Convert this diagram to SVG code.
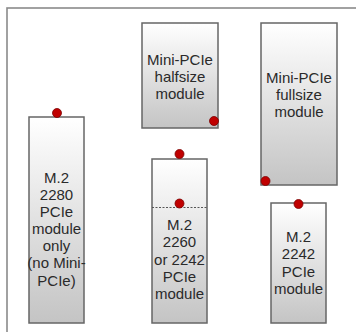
<svg xmlns="http://www.w3.org/2000/svg" width="356" height="332" viewBox="0 0 356 332">
<defs>
<linearGradient id="g" x1="0" y1="0" x2="0" y2="1">
<stop offset="0" stop-color="#ffffff"/>
<stop offset="1" stop-color="#c4c4c4"/>
</linearGradient>
</defs>
<style>
.box{fill:url(#g);stroke:#666;stroke-width:1.5}
.dot{fill:#c00000;stroke:#7a0000;stroke-width:0.8}
.t{font-family:"Liberation Sans",Arial,sans-serif;font-size:15px;fill:#2a2a2a;text-anchor:middle}
.frame{fill:#fff;stroke:#8a8a8a;stroke-width:1.6}
</style>
<rect width="356" height="332" fill="#fff"/>
<rect class="frame" x="7" y="8" width="400" height="400"/>
<g id="halfsize">
<rect class="box" x="142" y="23" width="76" height="105"/>
<text class="t" x="180" y="65">Mini-PCIe</text>
<text class="t" x="180" y="82">halfsize</text>
<text class="t" x="180" y="99">module</text>
<circle class="dot" cx="214" cy="121" r="4.5"/>
</g>
<g id="fullsize">
<rect class="box" x="261" y="23" width="76" height="162"/>
<text class="t" x="299" y="83">Mini-PCIe</text>
<text class="t" x="299" y="100">fullsize</text>
<text class="t" x="299" y="117">module</text>
<circle class="dot" cx="265.5" cy="181" r="4.5"/>
</g>
<g id="m2-2280">
<rect class="box" x="29" y="117" width="55" height="206"/>
<text class="t" x="56.5" y="183">M.2</text>
<text class="t" x="56.5" y="200">2280</text>
<text class="t" x="56.5" y="217">PCIe</text>
<text class="t" x="56.5" y="234">module</text>
<text class="t" x="56.5" y="251">only</text>
<text class="t" x="56.5" y="268">(no Mini-</text>
<text class="t" x="56.5" y="286">PCIe)</text>
<circle class="dot" cx="57" cy="113" r="4.5"/>
</g>
<g id="m2-2260">
<rect class="box" x="152" y="159" width="55" height="164"/>
<line x1="152" y1="207.5" x2="207" y2="207.5" stroke="#555" stroke-width="1" stroke-dasharray="2,1.5"/>
<text class="t" x="179.5" y="230">M.2</text>
<text class="t" x="179.5" y="247">2260</text>
<text class="t" x="179.5" y="265">or 2242</text>
<text class="t" x="179.5" y="282">PCIe</text>
<text class="t" x="179.5" y="299">module</text>
<circle class="dot" cx="179.5" cy="154" r="4.5"/>
<circle class="dot" cx="179.5" cy="203.5" r="4.5"/>
</g>
<g id="m2-2242">
<rect class="box" x="271" y="203" width="55" height="120"/>
<text class="t" x="298.5" y="242">M.2</text>
<text class="t" x="298.5" y="259">2242</text>
<text class="t" x="298.5" y="277">PCIe</text>
<text class="t" x="298.5" y="294">module</text>
<circle class="dot" cx="298.5" cy="204" r="4.5"/>
</g>
<g id="connectors"></g>
</svg>
